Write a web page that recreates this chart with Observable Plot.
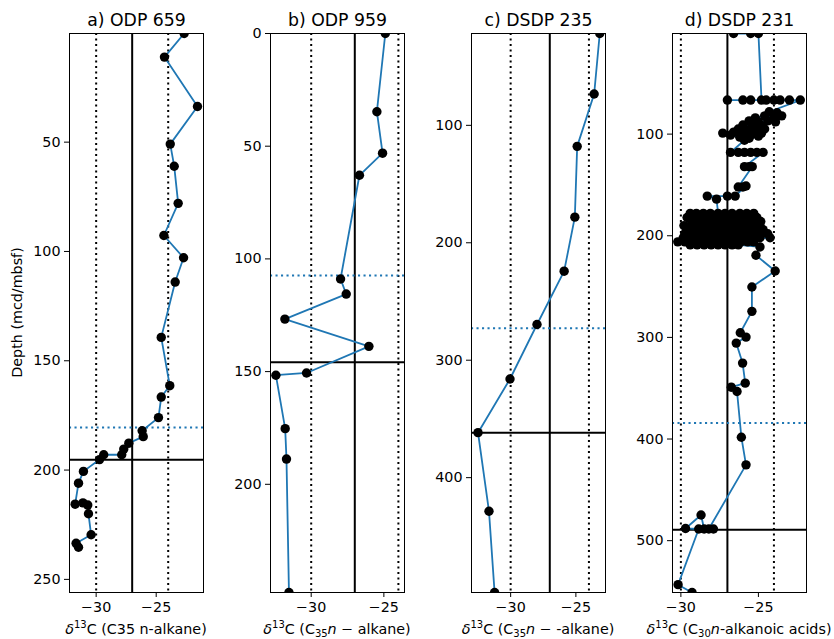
<!DOCTYPE html>
<html><head><meta charset="utf-8">
<script src="https://cdn.jsdelivr.net/npm/d3@7"></script>
<script src="https://cdn.jsdelivr.net/npm/@observablehq/plot@0.6"></script>
<style>
body{margin:0;background:#fff;}
#fig{position:relative;width:834px;height:639px;background:#fff;overflow:hidden;}
#fig svg{position:absolute;top:0;overflow:visible;}
</style></head><body><div id="fig"></div>
<script>
// ---------- data ----------
const titles = ["a) ODP 659", "b) ODP 959", "c) DSDP 235", "d) DSDP 231"];
const yLabel = "Depth (mcd/mbsf)";
const xLabelParts = [
  [["δ","i"],["13","sup"],["C (C35 n-alkane)",""]],
  [["δ","i"],["13","sup"],["C (C",""],["35","sub"],["n","i"],[" − alkane)",""]],
  [["δ","i"],["13","sup"],["C (C",""],["35","sub"],["n","i"],[" − -alkane)",""]],
  [["δ","i"],["13","sup"],["C (C",""],["30","sub"],["n","i"],["-alkanoic acids)",""]]
];
const xTicks = [-30, -25];
const dottedRefX = [-30, -24];
const solidRefX = [-27];

const aYTicks = [50, 100, 150, 200, 250];
const bYTicks = [0, 50, 100, 150, 200];
const cYTicks = [100, 200, 300, 400];
const dYTicks = [100, 200, 300, 400, 500];

const aDepth = [0.3, 11.1, 33.7, 50.9, 61, 78, 92.7, 102.9, 114, 139.3, 161.4, 166.6, 176, 182, 184.7, 187.7, 190.4, 193, 193, 195.2, 200.6, 206, 215.6, 215, 216, 220, 229.6, 233.5, 235.3];
const aD13C = [-22.67, -24.31, -21.56, -23.83, -23.5, -23.17, -24.36, -22.72, -23.42, -24.58, -23.87, -24.58, -24.81, -26.17, -26.08, -27.28, -27.7, -27.87, -29.37, -29.72, -31.06, -31.47, -31.75, -31.1, -30.7, -30.64, -30.42, -31.67, -31.47];
const aRefDotted = 180.5, aRefSolid = 195.3;

const bDepth = [0, 34.7, 53.1, 62.9, 108.9, 115.6, 126.7, 138.8, 150.6, 151.6, 175.3, 188.8, 248];
const bD13C = [-24.9, -25.48, -25.09, -26.68, -27.98, -27.59, -31.81, -26.03, -30.32, -32.43, -31.79, -31.7, -31.53];
const bRefDotted = 107.4, bRefSolid = 145.9;

const cDepth = [21.8, 73.3, 117.9, 178.2, 224.2, 269.6, 316, 361.7, 428.6, 497.8];
const cD13C = [-23.17, -23.6, -24.9, -25.08, -25.9, -27.98, -30.05, -32.5, -31.66, -31.23];
const cRefDotted = 272.7, cRefSolid = 361.7;

const dDepth = [
  1, 1, 1,
  66.5, 66.5, 66.5, 66.5, 66.5, 66.5, 66.5, 66.5, 66.5,
  78, 79, 82, 84, 82, 84, 87, 88, 87, 88, 91, 92, 92, 95, 96, 96, 95, 98, 99, 100, 99, 99, 101, 103, 104, 102, 106,
  118, 118, 118, 118, 118, 118,
  132, 132, 132,
  152, 152, 151,
  161, 161, 161, 164,
  178, 178, 178, 178, 178, 178, 178, 178, 178, 178,
  182, 182, 182, 182, 182, 182, 182, 182, 182, 182, 182,
  186, 186, 186, 186, 186, 186, 186, 186, 186, 186, 186,
  190, 190, 190, 190, 190, 190, 190, 190, 190, 190, 190, 190,
  194, 194, 194, 194, 194, 194, 194, 194, 194, 194, 194, 194,
  198, 198, 198, 198, 198, 198, 198, 198, 198, 198, 198, 198, 198,
  202, 202, 202, 202, 202, 202, 202, 202, 202, 202, 202, 202, 202,
  206, 206, 206, 206, 206, 206, 206, 206, 206, 206, 206, 206,
  209, 209, 209, 209, 209, 209, 209, 209,
  211, 219.2, 234.7, 250.4, 274.4, 295.4, 299.7, 305.6, 325.3, 345, 349, 353.2, 398.2, 425.4,
  488.5, 488.5, 488.5, 474.7, 488, 488.5, 543.3, 551
];
const dD13C = [
  -26.6, -25.5, -25.0,
  -24.8, -26.0, -27.0, -25.5, -24.5, -24.0, -23.6, -23.0, -22.3,
  -24.3, -23.8, -23.5, -24.0, -24.6, -25.2, -25.6, -25.0, -24.4, -23.9, -26.0, -25.4, -24.8, -26.3, -25.7, -25.1, -24.6, -26.6, -26.0, -25.4, -24.8, -27.3, -26.8, -26.2, -25.6, -25.0, -25.9,
  -26.8, -26.3, -25.9, -25.5, -25.1, -24.7,
  -25.9, -25.6, -25.4,
  -26.3, -26.0, -25.8,
  -26.5, -27.0, -28.3, -27.7,
  -27.6, -28.1, -28.55, -29.0, -29.4, -27.15, -26.7, -26.2, -25.75, -25.3,
  -29.6, -29.15, -28.7, -28.25, -27.8, -27.35, -26.9, -26.45, -26.0, -25.55, -25.1,
  -29.3, -28.85, -28.4, -27.95, -27.5, -27.05, -26.6, -26.15, -25.7, -25.25, -24.85,
  -29.8, -29.35, -28.9, -28.45, -28.0, -27.55, -27.1, -26.65, -26.2, -25.75, -25.3, -24.9,
  -29.55, -29.1, -28.65, -28.2, -27.75, -27.3, -26.85, -26.4, -25.95, -25.5, -25.05, -24.7,
  -29.75, -29.3, -28.85, -28.4, -27.95, -27.5, -27.05, -26.6, -26.15, -25.7, -25.25, -24.8, -24.4,
  -29.85, -29.4, -28.95, -28.5, -28.05, -27.6, -27.15, -26.7, -26.25, -25.8, -25.35, -24.9, -24.25,
  -30.2, -29.75, -29.3, -28.85, -28.4, -27.95, -27.5, -27.05, -26.6, -26.15, -25.7, -25.3,
  -29.4, -28.95, -28.5, -28.05, -27.6, -27.15, -26.7, -26.3,
  -24.9, -25.16, -23.92, -25.42, -25.42, -26.17, -25.8, -26.43, -26.02, -25.85, -26.75, -26.38, -26.1, -25.8,
  -28.2, -27.9, -28.5, -28.7, -29.7, -28.85, -30.18, -29.28
];
const dRefDotted = 384.2, dRefSolid = 489.2;

// ---------- layout ----------
const FONT = "DejaVu Sans";
const BLUE = "#1f77b4";
const FS = 14.3;
const W = 134, H = 639, MT = 33, MB = 47;
const panels = [
  {depth: aDepth, v: aD13C, ticks: aYTicks, xDom: [-32.22, -21.06], yDom: [0.3, 256], hd: aRefDotted, hs: aRefSolid, left: 69, ml: 69, mr: 12},
  {depth: bDepth, v: bD13C, ticks: bYTicks, xDom: [-32.8, -23.58], yDom: [0, 248], hd: bRefDotted, hs: bRefSolid, left: 270, ml: 50, mr: 12},
  {depth: cDepth, v: cD13C, ticks: cYTicks, xDom: [-33.0, -22.73], yDom: [21.8, 497.8], hd: cRefDotted, hs: cRefSolid, left: 471, ml: 50, mr: 12},
  {depth: dDepth, v: dD13C, ticks: dYTicks, xDom: [-30.54, -21.9], yDom: [1, 551], hd: dRefDotted, hs: dRefSolid, left: 672, ml: 50, mr: 28}
];
const fmt = d => d < 0 ? "\u2212" + Math.abs(d) : String(d);
const fig = document.getElementById("fig");

function addLabel(svg, cx, y, parts) {
  const t = d3.select(svg).append("text")
    .attr("x", cx).attr("y", y).attr("text-anchor", "middle")
    .attr("font-family", FONT).attr("font-size", FS).attr("fill", "black")
    .style("white-space", "pre");
  let shift = 0;
  for (const [s, kind] of parts) {
    const ts = t.append("tspan").text(s);
    const target = kind === "sup" ? -5.7 : kind === "sub" ? 3 : 0;
    if (target !== shift) { ts.attr("dy", target - shift); shift = target; }
    if (kind === "sup" || kind === "sub") ts.attr("font-size", 10);
    if (kind === "i") ts.attr("font-style", "italic");
  }
}

panels.forEach((p, i) => {
  const data = p.depth.map((d, k) => ({depth: d, v: p.v[k]}));
  const svg = Plot.plot({
    width: p.ml + W + p.mr, height: H,
    marginLeft: p.ml, marginRight: p.mr, marginTop: MT, marginBottom: MB,
    style: {fontFamily: FONT, fontSize: FS + "px", background: "transparent", overflow: "visible", color: "black"},
    x: {domain: p.xDom, ticks: xTicks, tickFormat: fmt, tickSize: 5, tickPadding: 4, label: null},
    y: {domain: p.yDom, reverse: true, ticks: p.ticks, tickSize: 5, tickPadding: 4, label: null},
    marks: [
      Plot.ruleX(dottedRefX, {stroke: "black", strokeWidth: 2, strokeDasharray: "2.1,3.4"}),
      Plot.ruleX(solidRefX, {stroke: "black", strokeWidth: 2}),
      Plot.ruleY([p.hd], {stroke: BLUE, strokeWidth: 2, strokeDasharray: "2.1,3.4"}),
      Plot.ruleY([p.hs], {stroke: "black", strokeWidth: 2}),
      Plot.line(data, {x: "v", y: "depth", stroke: BLUE, strokeWidth: 1.8, clip: true}),
      Plot.dot(data, {x: "v", y: "depth", r: 4.7, fill: "black", stroke: "none", clip: true}),
      Plot.frame({stroke: "black", strokeWidth: 1}),
      Plot.text([titles[i]], {text: d => d, frameAnchor: "top", dy: -8, lineAnchor: "bottom", fontSize: 17.3})
    ]
  });
  svg.style.left = (p.left - p.ml) + "px";
  addLabel(svg, p.ml + W / 2, 634, xLabelParts[i]);
  if (i === 0) {
    d3.select(svg).append("text")
      .attr("transform", "translate(21.5,312.5) rotate(-90)")
      .attr("text-anchor", "middle").attr("font-family", FONT).attr("font-size", FS)
      .attr("fill", "black").text(yLabel);
  }
  fig.appendChild(svg);
});
</script>
</body></html>
